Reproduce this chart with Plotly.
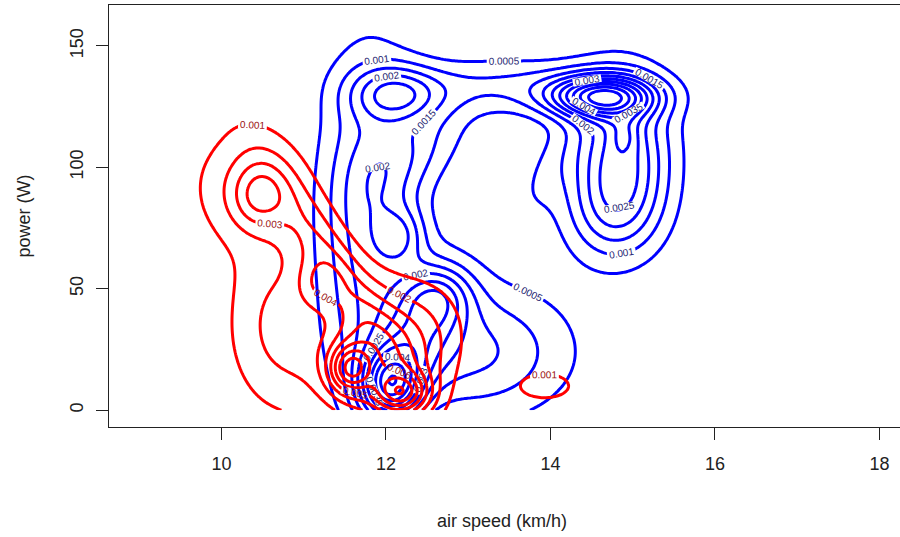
import numpy as np
import plotly.graph_objects as go

# ---- density components (centre x, centre y, spread x, spread y, tilt, peak) ----
blue_cx   = [12.05, 12.35, 12.63, 12.20, 11.80, 13.05, 12.15, 13.50, 14.62, 14.90, 14.85, 14.75, 12.40, 13.90]
blue_cy   = [10.0,  28.0,  47.0,  72.0,  80.0,  24.0,  130.0, 134.0, 129.0, 113.0, 105.0, 80.0,  108.0, 95.0]
blue_sx   = [0.25,  0.38,  0.30,  0.20,  0.42,  0.82,  0.38,  0.90,  0.45,  0.12,  0.42,  0.40,  0.45,  0.30]
blue_sy   = [10.0,  20.0,  9.0,   8.0,   45.0,  19.0,  8.0,   8.0,   6.0,   5.0,   22.0,  14.0,  14.0,  14.0]
blue_rho  = [0.0,   0.5,   0.0,   0.0,   0.0,   0.0,   0.0,   0.0,   0.0,   0.0,   0.0,   0.0,   0.5,   0.6]
blue_peak = [0.0030, 0.0015, 0.0014, 0.0010, 0.0018, 0.0016, 0.0018, 0.0010, 0.0038, 0.0006, 0.0026, 0.0010, 0.0008, 0.0004]

red_cx   = [10.45, 10.30, 11.30, 11.18, 10.70, 11.90, 11.56, 12.20, 13.93, 12.60]
red_cy   = [88.0,  92.0,  62.0,  52.0,  35.0,  20.0,  17.0,  7.0,   10.0,  35.0]
red_sx   = [0.22,  0.50,  0.55,  0.20,  0.45,  0.50,  0.18,  0.22,  0.30,  0.35]
red_sy   = [9.0,   18.0,  28.0,  7.0,   25.0,  20.0,  7.0,   6.0,   5.0,   15.0]
red_rho  = [0.0,   0.0,   -0.85, 0.0,   0.0,   0.0,   0.0,   0.0,   0.0,   0.0]
red_peak = [0.0022, 0.0018, 0.0025, 0.0015, 0.0022, 0.0045, 0.0045, 0.0045, 0.0016, 0.0008]

x_ticks = [10, 12, 14, 16, 18]
y_ticks = [0, 50, 100, 150]

grid_x = np.linspace(8.7, 18.2, 260)
grid_y = np.linspace(0.0, 165.0, 260)
GX, GY = np.meshgrid(grid_x, grid_y)


def density(cx, cy, sx, sy, rho, peak):
    z = np.zeros_like(GX)
    for a, b, c, d, r, p in zip(cx, cy, sx, sy, rho, peak):
        u = (GX - a) / c
        v = (GY - b) / d
        q = (u * u - 2 * r * u * v + v * v) / (1 - r * r)
        z += p * np.exp(-0.5 * q)
    return z


z_blue = density(blue_cx, blue_cy, blue_sx, blue_sy, blue_rho, blue_peak)
z_red = density(red_cx, red_cy, red_sx, red_sy, red_rho, red_peak)

fig = go.Figure()
fig.add_trace(go.Contour(
    x=grid_x, y=grid_y, z=z_blue,
    contours=dict(coloring="lines", start=0.0005, end=0.006, size=0.0005,
                  showlabels=True, labelfont=dict(size=10, color="#1c1c70", family="Liberation Sans"),
                  labelformat=".2~g"),
    colorscale=[[0, "#0000ff"], [1, "#0000ff"]], showscale=False,
    line=dict(width=3), hoverinfo="skip",
))
fig.add_trace(go.Contour(
    x=grid_x, y=grid_y, z=z_red,
    contours=dict(coloring="lines", start=0.001, end=0.01, size=0.001,
                  showlabels=True, labelfont=dict(size=10, color="#9a1010", family="Liberation Sans"),
                  labelformat=".2~g"),
    colorscale=[[0, "#ff0000"], [1, "#ff0000"]], showscale=False,
    line=dict(width=3), hoverinfo="skip",
))

fig.update_layout(
    width=900, height=537,
    margin=dict(l=109, r=0, t=5, b=110, autoexpand=False),
    paper_bgcolor="white", plot_bgcolor="white",
    font=dict(family="Liberation Sans", size=18, color="#222222"),
    showlegend=False,
    xaxis=dict(range=[8.633, 18.25], tickvals=x_ticks, ticks="outside", ticklen=12,
               tickwidth=1, tickcolor="#222", showline=True, linecolor="#222", linewidth=1,
               mirror=True, showgrid=False, zeroline=False, ticklabelstandoff=8,
               automargin=False),
    yaxis=dict(range=[-6.9, 166.8], tickvals=y_ticks, ticks="outside", ticklen=12,
               tickwidth=1, tickcolor="#222", showline=True, linecolor="#222", linewidth=1,
               mirror=True, showgrid=False, zeroline=False, tickangle=-90,
               ticklabelstandoff=6, automargin=False),
    annotations=[
        dict(text="air speed (km/h)", xref="paper", yref="paper", x=0.497, y=-0.223,
             showarrow=False, xanchor="center", yanchor="middle", font=dict(size=18)),
        dict(text="power (W)", xref="paper", yref="paper", x=-0.108, y=0.5,
             showarrow=False, xanchor="center", yanchor="middle", textangle=-90,
             font=dict(size=18)),
    ],
)

fig.write_html("out.html", config={"displayModeBar": False},
               post_script="document.body.style.margin='0px';")
